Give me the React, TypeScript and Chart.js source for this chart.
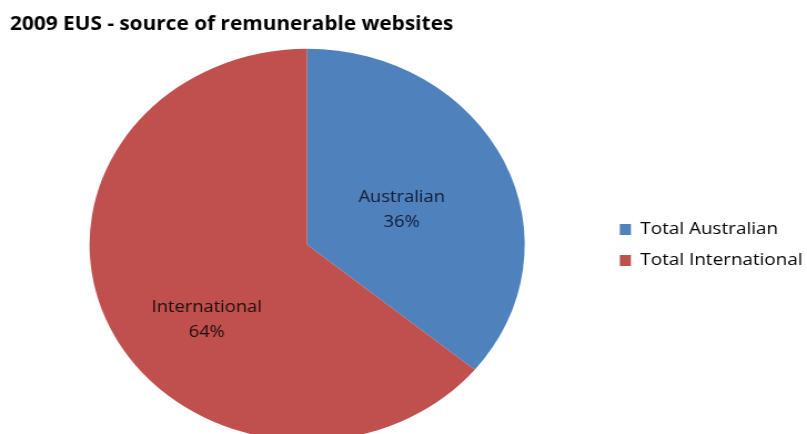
import React, { useEffect, useRef } from "react";
import { Chart, registerables } from "chart.js";

Chart.register(...registerables);

const TITLE = "2009 EUS - source of remunerable websites";
const legendLabels = ["Total Australian", "Total International"];
const sliceLabels = ["Australian", "International"];
const values = [36, 64];
const colors = ["#4f81bd", "#c0504d"];
const labelColors = ["#111c36", "#1f0c0c"];
const labelRadius = [0.47, 0.6];
const labelAngleShift = [2.8, -14.5];

const STRETCH = 1.11;
const OUT_W = 807;
const OUT_H = 434;
const FONT = "'Open Sans', 'Noto Sans', sans-serif";

const sliceLabelPlugin = {
  id: "sliceLabels",
  afterDatasetsDraw(chart: any) {
    const ctx = chart.ctx;
    const meta = chart.getDatasetMeta(0);
    const total = values.reduce((a, b) => a + b, 0);
    meta.data.forEach((arc: any, i: number) => {
      const p = arc.getProps(["startAngle", "endAngle", "outerRadius", "x", "y"], true);
      const mid = (p.startAngle + p.endAngle) / 2 + (labelAngleShift[i] * Math.PI) / 180;
      const r = p.outerRadius * labelRadius[i];
      const cx = p.x + Math.cos(mid) * r;
      const cy = p.y + Math.sin(mid) * r;
      const pct = Math.round((values[i] / total) * 100) + "%";
      ctx.save();
      ctx.fillStyle = labelColors[i];
      ctx.font = `16.5px ${FONT}`;
      ctx.textAlign = "center";
      ctx.textBaseline = "middle";
      ctx.fillText(sliceLabels[i], cx, cy - 12.5);
      ctx.fillText(pct, cx, cy + 12.5);
      ctx.restore();
    });
  },
};

export default function App() {
  const ref = useRef<HTMLCanvasElement>(null);
  useEffect(() => {
    document.body.style.margin = "0";
    const canvas = ref.current!;
    const chart = new Chart(canvas, {
      type: "pie",
      data: {
        labels: legendLabels,
        datasets: [
          {
            data: values,
            backgroundColor: colors,
            borderWidth: 0,
            radius: 196,
          } as any,
        ],
      },
      options: {
        responsive: false,
        animation: false,
        devicePixelRatio: 1,
        layout: { padding: { left: 9, right: -6, top: 0, bottom: 0 } },
        plugins: {
          title: {
            display: true,
            text: TITLE,
            align: "start",
            color: "#000",
            font: { family: FONT, size: 18.75, weight: "bold" },
            padding: { top: 13, bottom: 20 },
          },
          legend: {
            display: true,
            position: "right",
            align: "center",
            title: {
              display: true,
              text: " ",
              font: { size: 10 },
              padding: { top: 44, bottom: 0 },
            },
            labels: {
              color: "#000",
              font: { family: FONT, size: 17 },
              boxWidth: 10,
              boxHeight: 11,
              padding: 14,
            },
          },
          tooltip: { enabled: false },
        },
      },
      plugins: [sliceLabelPlugin],
    });
    return () => chart.destroy();
  }, []);
  return (
    <canvas
      ref={ref}
      width={Math.round(OUT_W / STRETCH)}
      height={OUT_H}
      style={{ width: OUT_W + "px", height: OUT_H + "px", display: "block" }}
    />
  );
}
